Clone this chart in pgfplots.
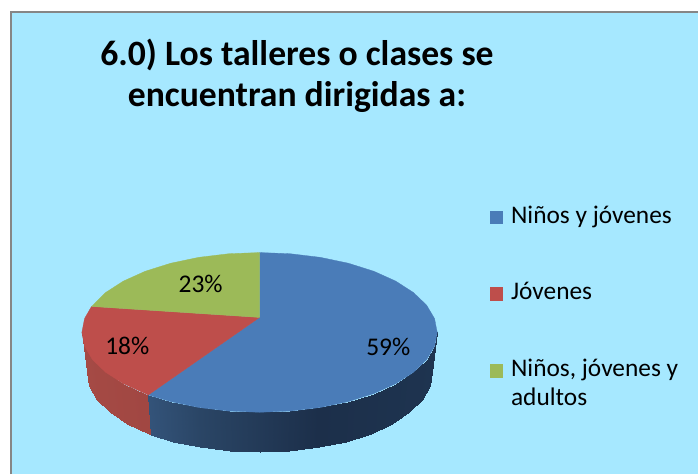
\documentclass[border=0pt]{standalone}
\usepackage{pgfplots}
\usepackage{fontspec}
\setmainfont{Carlito}
\pgfplotsset{compat=1.18}
\definecolor{bgc}{RGB}{166,232,255}
\definecolor{brd}{RGB}{134,134,134}
\definecolor{tblue}{RGB}{74,124,184}
\definecolor{tred}{RGB}{190,78,75}
\definecolor{tgreen}{RGB}{156,186,88}
\pgfplotsset{
 colormap={sideblue}{rgb255=(63,101,147) rgb255=(42,69,101) rgb255=(28,47,74) rgb255=(30,52,80)},
 colormap={sidered}{rgb255=(165,74,69) rgb255=(142,57,53)}
}
\begin{document}
\begin{tikzpicture}
\begin{axis}[
 scale only axis, width=699pt, height=475pt,
 xmin=0, xmax=699, ymin=0, ymax=475, y dir=reverse,
 hide axis, clip=false,
 legend image code/.code={\path[#1,draw=none] (0pt,-1pt) rectangle (13.5pt,12.5pt);},
 legend style={at={(axis cs:490.5,204)}, anchor=north west, draw=none, fill=none,
   inner sep=0pt, outer sep=0pt, row sep=54pt, font=\fontsize{25.4}{29}\selectfont,
   cells={anchor=base west, align=left}, /tikz/every odd column/.append style={column sep=6pt}},
]
\path (axis cs:0,0) rectangle (axis cs:699,475);
% panel
\addplot[fill=bgc, draw=none, forget plot] coordinates {(11,12) (699,12) (699,475) (11,475)} --cycle;
\addplot[draw=brd, line width=2.5pt, forget plot] coordinates {(11,475) (11,12) (699,12)};
% side walls
\addplot[surf, shader=interp, colormap name=sidered, mesh/rows=2, point meta=explicit, forget plot]
 table[x=x,y=y,meta=c] {
x y c
82 333 82
84.7 346.9 84.7
92.7 360.4 92.7
105.9 373 105.9
123.6 384.4 123.6
145.6 394.3 145.6
148.5 395.7 148.5
87 373 82
89.6 386.9 84.7
97.4 400.4 92.7
110.2 413 105.9
127.5 424.4 123.6
148.8 434.3 145.6
151.3 435.6 148.5
};
\addplot[surf, shader=interp, colormap name=sideblue, mesh/rows=2, point meta=explicit, forget plot]
 table[x=x,y=y,meta=c] {
x y c
148.5 395.7 148.5
171 402.3 171
199.1 408.2 199.1
229.1 411.8 229.1
260 413 260
290.9 411.8 290.9
320.9 408.2 320.9
349 402.3 349
374.4 394.3 374.4
396.4 384.4 396.4
414.1 373 414.1
427.3 360.4 427.3
435.3 346.9 435.3
438 333 438
151.3 435.6 148.5
173.5 442.3 171
200.8 448.2 199.1
230 451.8 229.1
260 453 260
290 451.8 290.9
319.2 448.2 320.9
346.5 442.3 349
371.2 434.3 374.4
392.5 424.4 396.4
409.8 413 414.1
422.6 400.4 427.3
430.4 386.9 435.3
433 373 438
};
% top faces
\addplot[fill=tblue, draw=tblue, line width=0.3pt] coordinates {
(260,318) (260,253) (290.9,254.2) (320.9,257.8) (349,263.7) (374.4,271.7) (396.4,281.6)
(414.1,293) (427.3,305.6) (435.3,319.1) (438,333) (435.3,346.9) (427.3,360.4) (414.1,373)
(396.4,384.4) (374.4,394.3) (349,402.3) (320.9,408.2) (290.9,411.8) (260,413) (229.1,411.8)
(199.1,408.2) (171,402.3) (148.5,395.7)} --cycle;
\addplot[fill=tred, draw=tred, line width=0.3pt] coordinates {
(260,318) (148.5,395.7) (145.6,394.3) (123.6,384.4) (105.9,373) (92.7,360.4) (84.7,346.9)
(82,333) (84.7,319.1) (91.7,307)} --cycle;
\addplot[fill=tgreen, draw=tgreen, line width=0.3pt] coordinates {
(260,318) (91.7,307) (105.9,293) (123.6,281.6) (145.6,271.7) (171,263.7) (199.1,257.8)
(229.1,254.2) (260,253)} --cycle;
\legend{Niños y jóvenes, Jóvenes, {\parbox[t]{170pt}{\raggedright Niños, jóvenes y\\adultos}}}
% data labels
\node[font=\fontsize{25.5}{28}\selectfont] at (axis cs:389,348) {59\%};
\node[font=\fontsize{25.5}{28}\selectfont] at (axis cs:201,284) {23\%};
\node[font=\fontsize{25.5}{28}\selectfont] at (axis cs:127.5,347) {18\%};
% title
\node[font=\fontsize{35.7}{41}\selectfont\bfseries, align=center] at (axis cs:297.5,75.5)
 {6.0) Los talleres o clases se\\encuentran dirigidas a:};
\end{axis}
\end{tikzpicture}
\end{document}
